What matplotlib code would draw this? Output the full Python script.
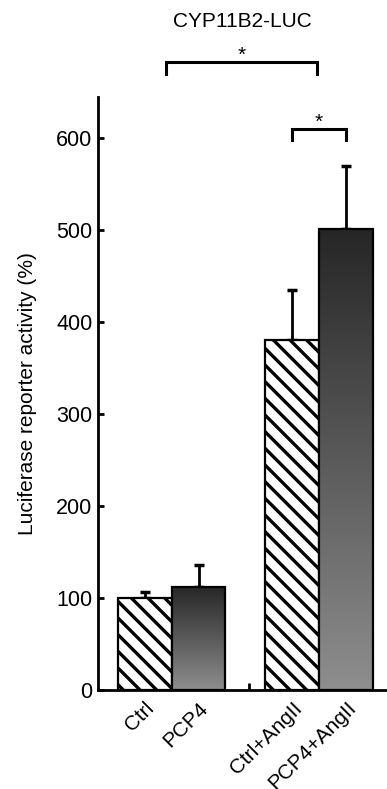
import numpy as np
import matplotlib
matplotlib.use('Agg')
import matplotlib.pyplot as plt
from matplotlib.colors import LinearSegmentedColormap

plt.rcParams['font.family'] = ['Liberation Sans', 'DejaVu Sans']
plt.rcParams['hatch.linewidth'] = 2.4

# data
labels = ['Ctrl', 'PCP4', 'Ctrl+AngII', 'PCP4+AngII']
values = [100, 112, 380, 501]
errors = [7, 24, 55, 69]
hatched = [True, False, True, False]
positions = [0, 1, 2.74, 3.74]

fig = plt.figure(figsize=(3.87, 7.89), dpi=100)
ax = fig.add_axes([0.253, 0.1255, 0.747, 0.752])

grad = LinearSegmentedColormap.from_list('g', ['#8e8e8e', '#262626'])

for x, v, e, h in zip(positions, values, errors, hatched):
    if h:
        b = ax.bar(x, v, width=1.0, color='white', edgecolor='black',
                   hatch='\\\\', linewidth=1.6, zorder=2)
    else:
        b = ax.bar(x, v, width=1.0, color='none', edgecolor='black',
                   linewidth=1.6, zorder=3)
        img = np.linspace(0, 1, 256).reshape(-1, 1)
        im = ax.imshow(img, cmap=grad, aspect='auto', origin='lower',
                       extent=[x - 0.5, x + 0.5, 0, v], zorder=2)
        im.set_clip_path(b.patches[0])
    ax.errorbar(x, v, yerr=[[0], [e]], fmt='none', ecolor='black',
                elinewidth=2, capsize=3.5, capthick=2.5, zorder=1)

ax.set_xlim(-0.87, 4.5)
ax.set_ylim(0, 645)
ax.set_yticks([0, 100, 200, 300, 400, 500, 600])
ax.tick_params(axis='y', direction='in', length=4, width=2, labelsize=15.5, pad=4)
ax.set_xticks(positions)
ax.set_xticklabels(labels, rotation=45, ha='right', rotation_mode='anchor', fontsize=15)
ax.tick_params(axis='x', length=0, pad=6)
ax.set_xticks([(positions[1] + positions[2]) / 2 + 0.06], minor=True)
ax.tick_params(axis='x', which='minor', direction='in', length=5, width=2)
for s in ['top', 'right']:
    ax.spines[s].set_visible(False)
for s in ['left', 'bottom']:
    ax.spines[s].set_linewidth(2)
ax.set_ylabel('Luciferase reporter activity (%)', fontsize=15, labelpad=14)
ax.set_title('CYP11B2-LUC', fontsize=15, pad=50)

# significance brackets
def bracket(x1, x2, y, leg):
    ax.plot([x1, x1, x2, x2], [y - leg, y, y, y - leg], color='black',
            lw=2.2, clip_on=False, solid_joinstyle='miter')
    ax.text((x1 + x2) / 2, y - 3, '*', ha='center', va='bottom',
            fontsize=15, clip_on=False)

bracket(positions[0] + 0.39, positions[2] + 0.46, 683, 13)
bracket(positions[2], positions[3], 610, 12)

fig.savefig('out.png', dpi=100)
